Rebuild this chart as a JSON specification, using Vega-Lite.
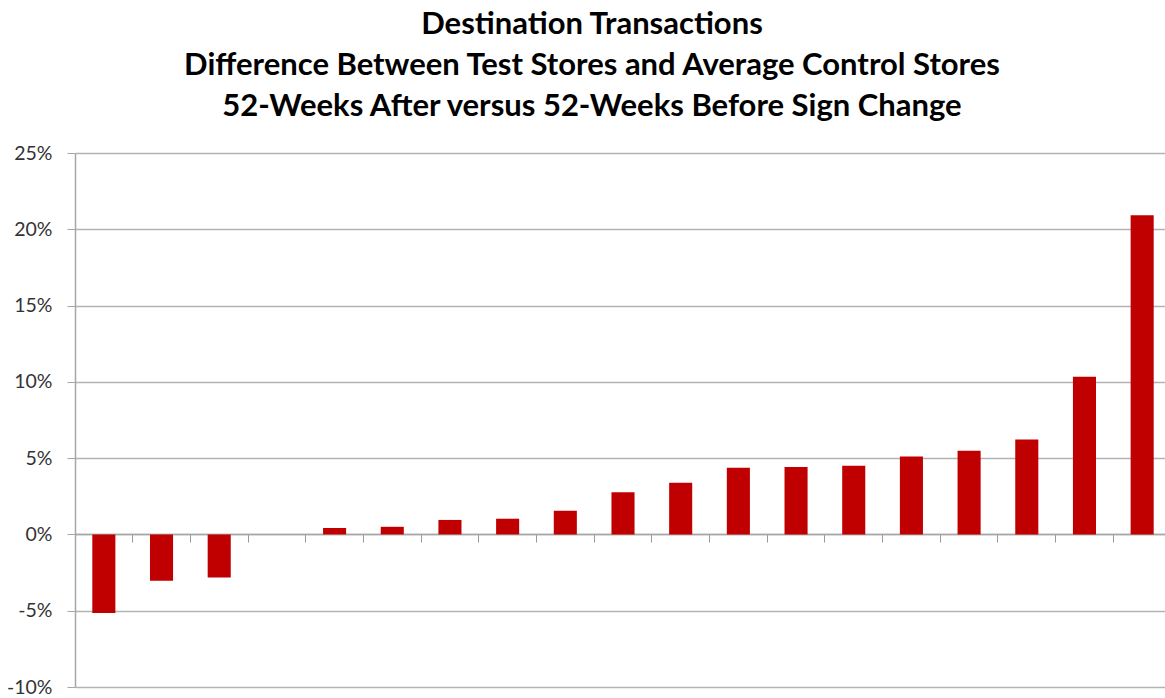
{
  "$schema": "https://vega.github.io/schema/vega-lite/v6.json",
  "width": 1096,
  "height": 534,
  "autosize": "none",
  "padding": {"left": 75, "top": 153, "right": -6, "bottom": 11},
  "background": "white",
  "title": {
    "text": ["Destination Transactions", "Difference Between Test Stores and Average Control Stores", "52-Weeks After versus 52-Weeks Before Sign Change"],
    "anchor": "middle",
    "frame": "group",
    "dx": -31,
    "offset": 20,
    "font": "Lato",
    "fontSize": 31,
    "fontWeight": "bold",
    "lineHeight": 41,
    "color": "#000000"
  },
  "data": {
    "values": [
      {"store": "1", "diff": -0.0515},
      {"store": "2", "diff": -0.0303},
      {"store": "3", "diff": -0.0283},
      {"store": "4", "diff": 0},
      {"store": "5", "diff": 0.0042},
      {"store": "6", "diff": 0.005},
      {"store": "7", "diff": 0.0095},
      {"store": "8", "diff": 0.0103},
      {"store": "9", "diff": 0.0156},
      {"store": "10", "diff": 0.0276},
      {"store": "11", "diff": 0.0338},
      {"store": "12", "diff": 0.0437},
      {"store": "13", "diff": 0.0442},
      {"store": "14", "diff": 0.045},
      {"store": "15", "diff": 0.0511},
      {"store": "16", "diff": 0.0549},
      {"store": "17", "diff": 0.0623},
      {"store": "18", "diff": 0.1033},
      {"store": "19", "diff": 0.2092}
    ]
  },
  "mark": {"type": "bar", "color": "#C00000"},
  "encoding": {
    "x": {
      "field": "store",
      "type": "nominal",
      "sort": null,
      "scale": {"paddingInner": 0.6, "paddingOuter": 0.3},
      "axis": {
        "title": null,
        "labels": false,
        "offset": -153,
        "bandPosition": -0.75,
        "tickSize": 8,
        "tickColor": "#999999",
        "domainColor": "#a6a6a6",
        "domainWidth": 1.5,
        "grid": false
      }
    },
    "y": {
      "field": "diff",
      "type": "quantitative",
      "scale": {"domain": [-0.1, 0.25], "nice": false, "zero": false},
      "axis": {
        "title": null,
        "values": [-0.1, -0.05, 0, 0.05, 0.1, 0.15, 0.2, 0.25],
        "format": ".0%",
        "labelExpr": "replace(datum.label, '\u2212', '-')",
        "labelFont": "Lato",
        "labelFontSize": 19.5,
        "labelColor": "#333333",
        "labelPadding": 15,
        "tickSize": 8,
        "tickColor": "#a6a6a6",
        "domainColor": "#a6a6a6",
        "domainWidth": 1.5,
        "gridColor": "#b3b3b3",
        "gridWidth": 1.5,
        "gridOpacity": 1
      }
    }
  },
  "config": {
    "view": {"stroke": null}
  }
}
